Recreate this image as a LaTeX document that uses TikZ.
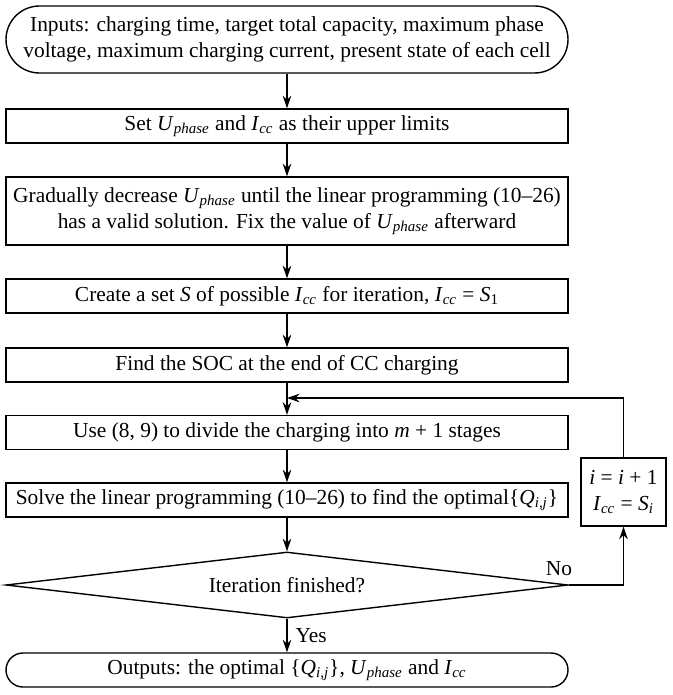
\documentclass[tikz,border=0pt]{standalone}
\usepackage{fontspec}
\setmainfont{Liberation Serif}
\usetikzlibrary{arrows.meta,shapes.geometric}
\newcommand{\Uph}{\textit{U}\textsubscript{\textit{phase}}}
\newcommand{\Icc}{\textit{I}\textsubscript{\textit{cc}}}
\newcommand{\Qij}{\{\textit{Q}\textsubscript{\textit{i,j}}\}}
\tikzset{
  proc/.style={draw=black,line width=0.7pt,rectangle,align=center,inner sep=2pt,
    minimum width=281pt,minimum height=17pt,font=\fontsize{10.7}{13}\selectfont}, % process box
  term/.style={proc,rounded corners=8.5pt},                                       % start/end
  dec/.style={draw=black,line width=0.7pt,diamond,aspect=8.5,inner sep=0pt,
    minimum width=281pt,minimum height=33pt,font=\fontsize{10.7}{13}\selectfont}, % decision
  arr/.style={-{Stealth[length=2.2mm,width=1.5mm]},line width=0.65pt},
  lbl/.style={font=\fontsize{10.7}{13}\selectfont,inner sep=1pt},
}
\begin{document}
\begin{tikzpicture}[x=0.5pt,y=-0.5pt]
  \useasboundingbox (0,0) rectangle (673,695);
  \node[term,minimum height=33.5pt,rounded corners=16.75pt] (in) at (287,39.5)
    {Inputs: charging time, target total capacity, maximum phase\\voltage, maximum charging current, present state of each cell};
  \node[proc] (set) at (287,126) {Set \Uph{} and \Icc{} as their upper limits};
  \node[proc,minimum height=34pt] (dcr) at (287,211)
    {Gradually decrease \Uph{} until the linear programming (10--26)\\has a valid solution. Fix the value of \Uph{} afterward};
  \node[proc] (crt) at (287,296) {Create a set \textit{S} of possible \Icc{} for iteration, \Icc{} = \textit{S}\textsubscript{1}};
  \node[proc] (soc) at (287,365) {Find the SOC at the end of CC charging};
  \node[proc] (use) at (287,432.5) {Use (8, 9) to divide the charging into \textit{m} + 1 stages};
  \node[proc] (slv) at (287,500) {Solve the linear programming (10--26) to find the optimal\Qij};
  \node[dec] (itr) at (287,585) {Iteration finished?};
  \node[proc,minimum width=42.5pt,minimum height=34pt] (nxt) at (623.5,492)
    {\textit{i} = \textit{i} + 1\\\Icc{} = \textit{S}\textsubscript{\textit{i}}};
  \node[term] (out) at (287,670) {Outputs: the optimal \Qij, \Uph{} and \Icc{}};
  \coordinate (join) at (287,398);
  % main flow
  \draw[arr] (in) -- (set); \draw[arr] (set) -- (dcr); \draw[arr] (dcr) -- (crt);
  \draw[arr] (crt) -- (soc); \draw[arr] (soc) -- (use); \draw[arr] (use) -- (slv);
  \draw[arr] (slv) -- (itr);
  \draw[arr] (itr) -- (out) node[lbl,midway,right,xshift=3pt] {Yes};
  % loop back
  \draw[arr] (itr.east) -| (nxt.south);
  \node[lbl] (no) at (559,569) {No};
  \draw[arr] (nxt.north) |- (join);
\end{tikzpicture}
\end{document}
